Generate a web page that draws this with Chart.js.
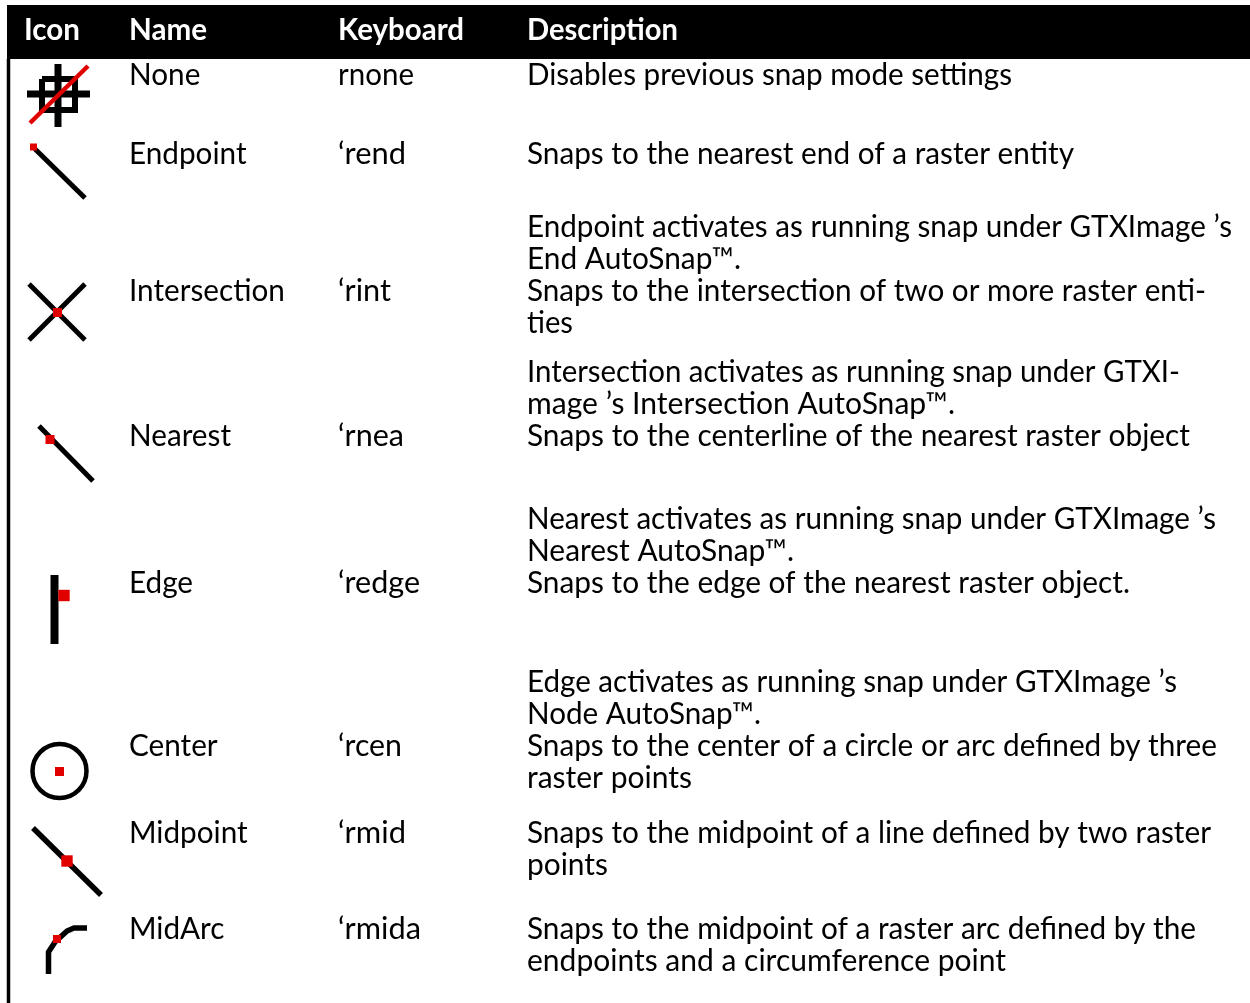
<!DOCTYPE html>
<html><head><meta charset="utf-8">
<style>html,body{margin:0;padding:0;background:#fff}canvas{display:block}</style>
<script src="https://cdn.jsdelivr.net/npm/chart.js@4"></script></head>
<body><div style="width:1250px;height:1003px"><canvas id="c" width="1250" height="1003"></canvas></div>
<script>
const headers = ['Icon','Name','Keyboard','Description'];
const names = ['None','Endpoint','Intersection','Nearest','Edge','Center','Midpoint','MidArc'];
const keys = ['rnone','‘rend','‘rint','‘rnea','‘redge','‘rcen','‘rmid','‘rmida'];
const descLines = [
 'Disables previous snap mode settings',
 'Snaps to the nearest end of a raster entity',
 'Endpoint activates as running snap under GTXImage ’s',
 'End AutoSnap™.',
 'Snaps to the intersection of two or more raster enti-',
 'ties',
 'Intersection activates as running snap under GTXI-',
 'mage ’s Intersection AutoSnap™.',
 'Snaps to the centerline of the nearest raster object',
 'Nearest activates as running snap under GTXImage ’s',
 'Nearest AutoSnap™.',
 'Snaps to the edge of the nearest raster object.',
 'Edge activates as running snap under GTXImage ’s',
 'Node AutoSnap™.',
 'Snaps to the center of a circle or arc defined by three',
 'raster points',
 'Snaps to the midpoint of a line defined by two raster',
 'points',
 'Snaps to the midpoint of a raster arc defined by the',
 'endpoints and a circumference point'
];
// layout (page units)
const colX = [24,129,338,527];
const headerBase = 40;
const rowBase = [85,164,301,446,593,756,843,939];
const descBase = [85,164,237,269,301,333,382,414,446,529,561,593,692,724,756,788,843,875,939,971];
const headerRight = [80,207,464,678];
const keyRight = [414,406,391,404,420,402,406,421];
const descRight = [1012,1074,1232,741,1206,573,1180,955,1190,1216,794,1130,1177,761,1217,692,1211,608,1196,1006];
// icon strokes
const P=(x,y)=>({x,y});
const black=[
 [P(58,64),P(58,127)],[P(27,94),P(90,94)],
 [P(42,79),P(75,79),P(75,110),P(42,110),P(42,79)],
 [P(35,149),P(85,198)],
 [P(29,284),P(85,340)],[P(85,284),P(29,340)],
 [P(39,426),P(93,481)],
 [P(54.5,575),P(54.5,644)],
 [P(33,828),P(101,895)],
 [P(48.5,974),P(48.5,952),P(55,942),P(67,931),P(74,928),P(87,928)]
];
const blackW=[7,7,6,5,5,5,5,8,5.5,5.5];
const redLine=[P(30,123),P(88,66)];
const redPts=[P(33.5,147),P(57.5,312.5),P(50,439.5),P(64,595.5),P(59.5,771.5),P(67,861),P(57,939)];
const redSizes=[3.5,4.5,4.5,5.7,4.5,5.7,4];
const circle={x:59.5,y:771,r:27};
const mk=(d,c,w,order)=>({data:d,type:'line',showLine:true,borderColor:c,borderWidth:w,borderCapStyle:'butt',pointRadius:0,fill:false,tension:0,order:order});
const ds=[
 mk([P(7,32),P(1250,32)],'#000',54,5),
 mk([P(8.5,59),P(8.5,1003)],'#000',3.5,5)
];
black.forEach((s,i)=>ds.push(mk(s,'#000',blackW[i],4)));
ds.push({type:'bubble',order:3,data:[circle],backgroundColor:'transparent',borderColor:'#000',borderWidth:4.5,hoverBorderWidth:4.5});
ds.push(mk(redLine,'#e00000',4.5,1));
ds.push({type:'line',order:0,showLine:false,data:redPts,pointStyle:'rect',pointRadius:redSizes.map(s=>s*1.414),pointBackgroundColor:'#e00000',pointBorderColor:'#e00000',pointBorderWidth:0});
const FONT='Lato';
const SIZE=30, HS=0.99;
const textPlugin={id:'text',afterDraw(ch){
 const c=ch.ctx,sx=ch.scales.x,sy=ch.scales.y;
 const put=(t,x,y,col,weight,right)=>{
  c.save();c.font=weight+' '+SIZE+'px '+FONT;
  const hs=right?(right-x)/c.measureText(t).width:HS;
  c.translate(sx.getPixelForValue(x),sy.getPixelForValue(y));c.scale(hs,1);
  c.fillStyle=col;c.textAlign='left';c.textBaseline='alphabetic';
  c.fillText(t,0,0);c.restore();};
 headers.forEach((h,i)=>put(h,colX[i],headerBase,'#fff','bold',headerRight[i]));
 names.forEach((t,i)=>put(t,colX[1],rowBase[i],'#000','normal'));
 keys.forEach((t,i)=>put(t,colX[2],rowBase[i],'#000','normal',keyRight[i]));
 descLines.forEach((t,i)=>put(t,colX[3],descBase[i],'#000','normal',descRight[i]));
}};
new Chart(document.getElementById('c'),{type:'line',data:{datasets:ds},plugins:[textPlugin],
 options:{responsive:false,animation:false,events:[],layout:{padding:0,autoPadding:false},
  plugins:{legend:{display:false},tooltip:{enabled:false},title:{display:false}},
  scales:{x:{type:'linear',min:0,max:1250,display:false},y:{type:'linear',min:0,max:1003,reverse:true,display:false}}}});
</script></body></html>
